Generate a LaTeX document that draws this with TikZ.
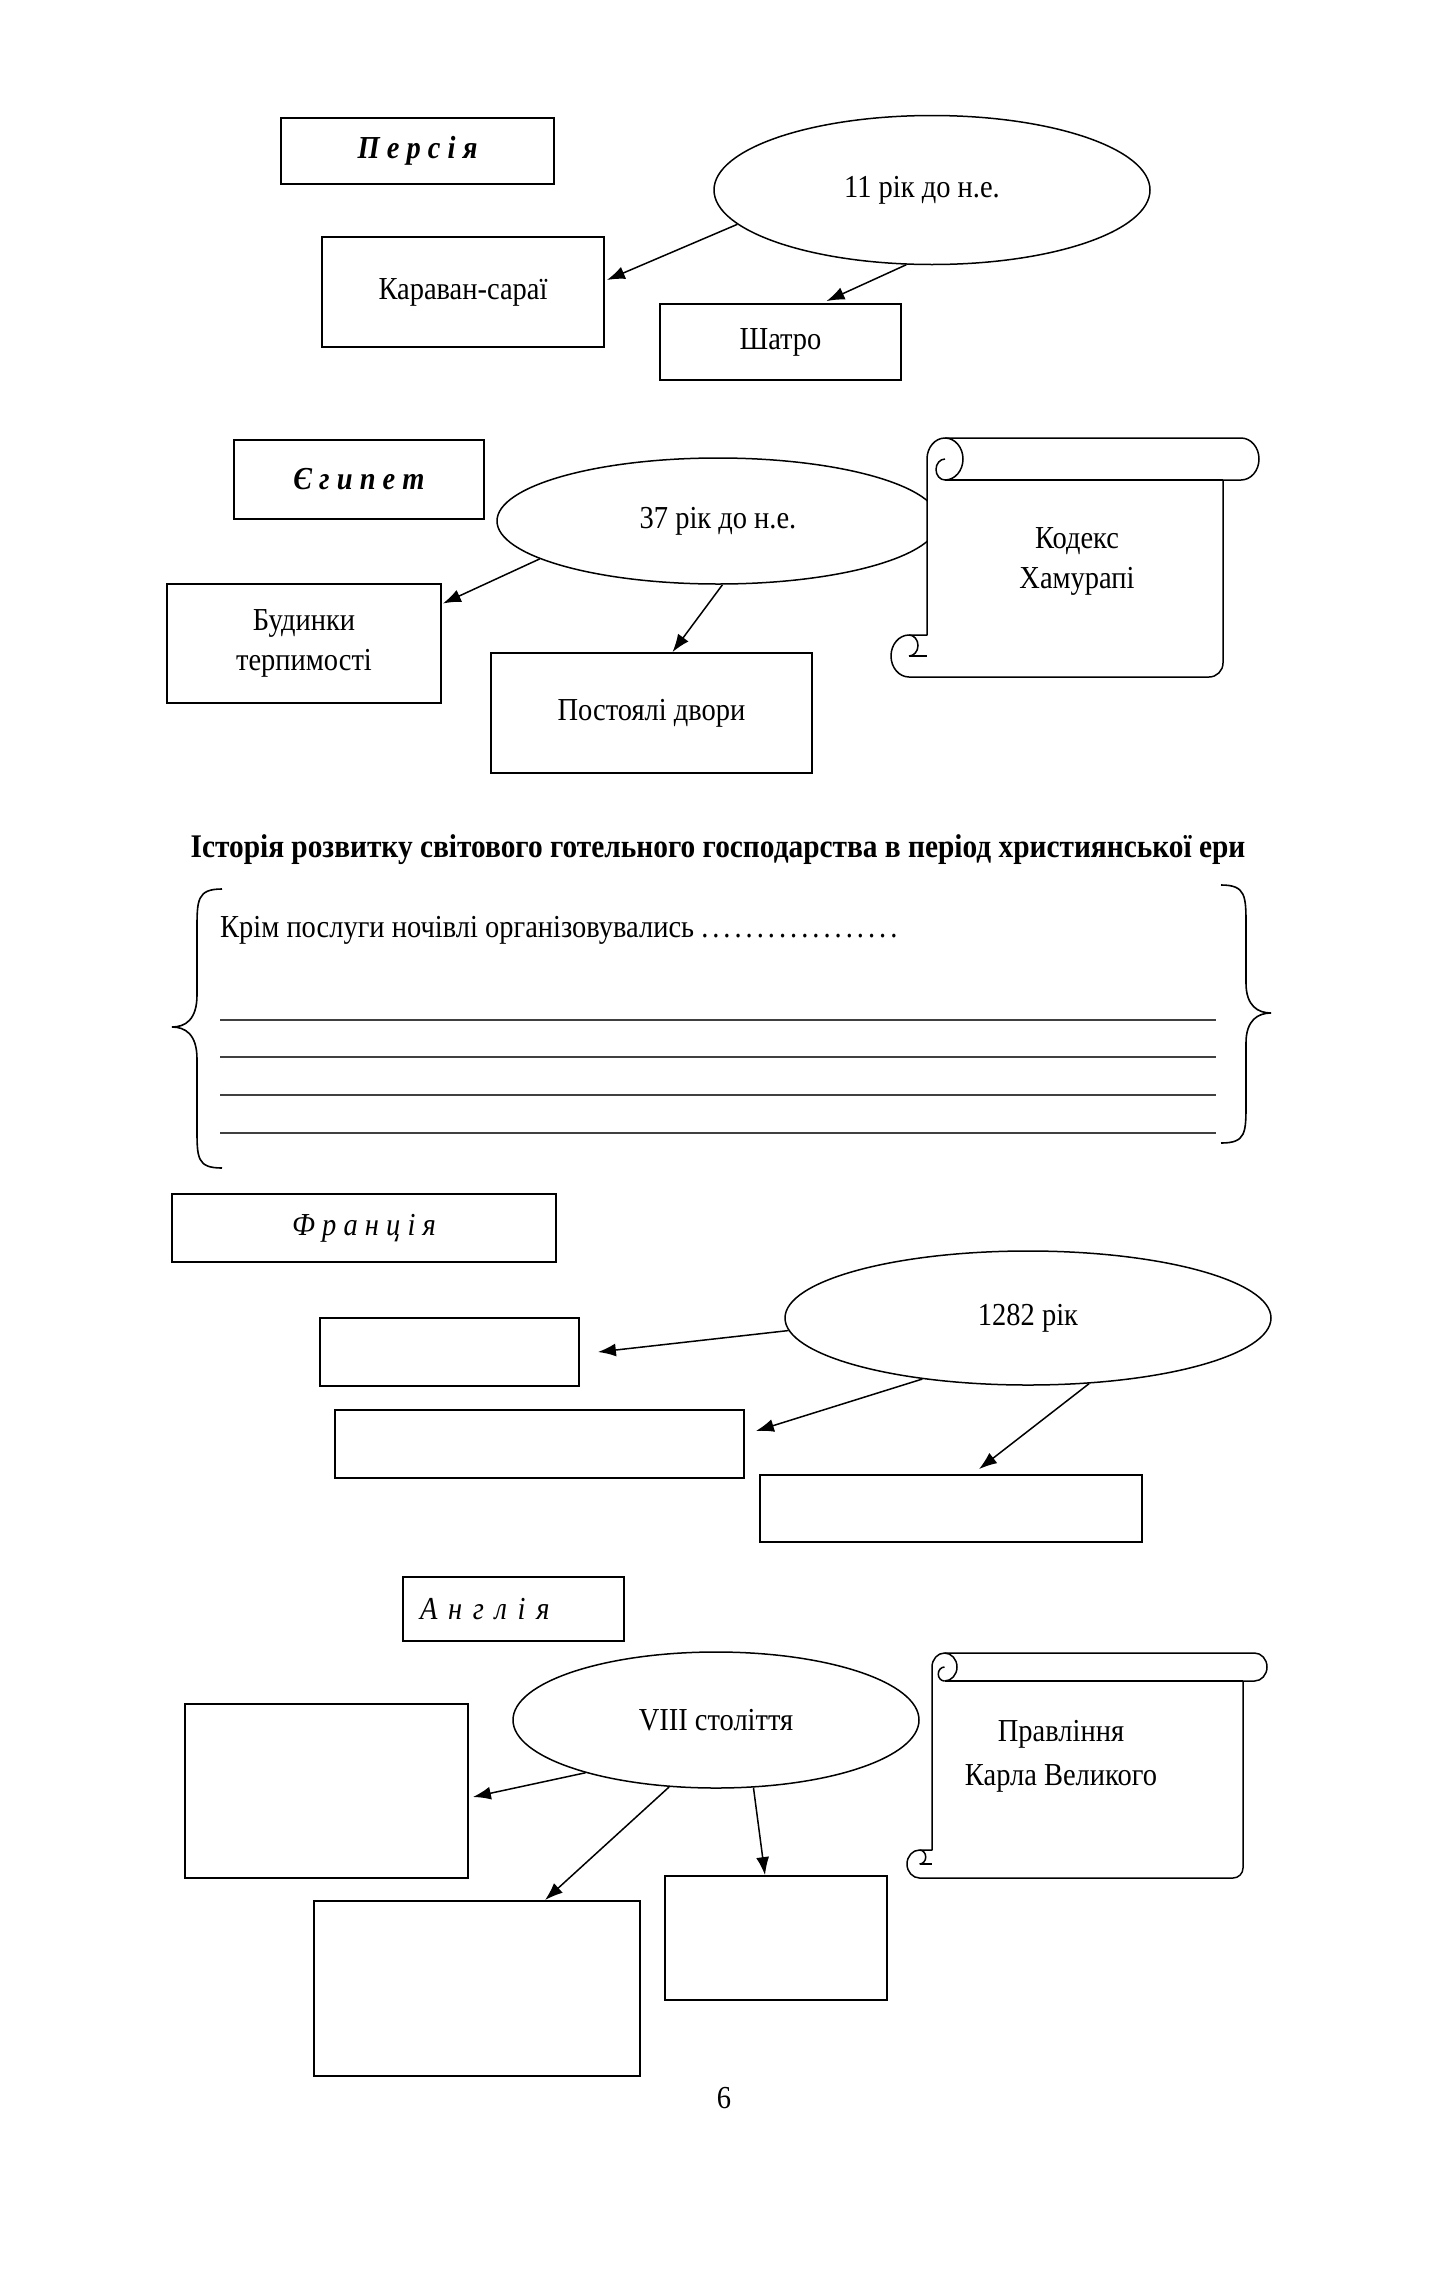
\documentclass[tikz,border=0pt]{standalone}
\usepackage{fontspec}
\setmainfont{Liberation Serif}[FakeStretch=0.89]
\usetikzlibrary{arrows.meta,shapes.geometric}
\tikzset{
  lbl/.style={font=\fontsize{32}{40}\selectfont},
  box/.style={draw, line width=1.8pt, rectangle, inner sep=0pt, align=center, lbl},
  oval/.style={draw, line width=1.5pt, ellipse, inner sep=0pt, align=center, lbl},
  arr/.style={line width=1.5pt, -{Latex[length=18pt,width=13pt]}},
  hdr/.style={box, font=\fontsize{32}{40}\selectfont\bfseries\itshape},
  hdrl/.style={box, font=\fontsize{32}{40}\selectfont\itshape},
  scrollshape/.style={draw, line width=1.5pt, fill=white, line join=round},
  scrolldetail/.style={line width=1.5pt},
  ruleline/.style={line width=1.6pt, black!75},
  bracestyle/.style={line width=1.6pt},
}
\newcommand{\dt}{.\kern4pt}
% #1 L, #2 A, #3 B, #4 R, #5 T, #6 Bt, #7 r, #8 rx, #9 corner
\newcommand{\drawscroll}[9]{%
  \draw[scrollshape] (#2,#5+#7) arc[start angle=180,end angle=270,x radius=#8,y radius=#7]
    -- (#4-#8,#5) arc[start angle=270,end angle=450,x radius=#8,y radius=#7]
    -- (#3,#5+2*#7) -- (#3,#6-#9) arc[start angle=0,end angle=90,x radius=#9,y radius=#9]
    -- (#1+#8,#6) arc[start angle=90,end angle=270,x radius=#8,y radius=#7]
    -- (#2,#6-2*#7) -- cycle;
  \draw[scrolldetail] (#2+#8,#5) arc[start angle=270,end angle=450,x radius=#8,y radius=#7];
  \draw[scrolldetail] (#2+#8,#5+#7) arc[start angle=270,end angle=90,x radius=#8/2,y radius=#7/2];
  \draw[scrolldetail] (#2+#8,#5+2*#7) -- (#3,#5+2*#7);
  \draw[scrolldetail] (#1+#8,#6-2*#7) arc[start angle=270,end angle=450,x radius=#8/2,y radius=#7/2];
  \draw[scrolldetail] (#1+#8,#6-#7) -- (#2,#6-#7);
}
\begin{document}
\begin{tikzpicture}[x=1pt,y=-1pt]
\fill[white] (0,0) rectangle (1439,2289);
\useasboundingbox (0,0) rectangle (1439,2289);

% ---- Persia
\node[hdr, minimum width=273pt, minimum height=66pt] (persia) at (417.5,151) {П е р с і я};
\node[oval, minimum width=436pt, minimum height=149pt] (e11) at (932,190) {11 рік до н.е.\hspace*{20pt}};
\node[box, minimum width=282pt, minimum height=110pt] (kar) at (463,292) {Караван-сараї};
\node[box, minimum width=241pt, minimum height=76pt] (shatro) at (780.5,342) {Шатро};
\draw[arr] (e11.190) -- ([xshift=2pt,yshift=12pt]kar.east);
\draw[arr] (e11.251) -- ([xshift=46pt,yshift=2pt]shatro.north);

% ---- Egypt
\node[hdr, minimum width=250pt, minimum height=79pt] (egypt) at (359,479.5) {Є г и п е т};
\node[oval, minimum width=442pt, minimum height=126pt] (e37) at (718,521) {37 рік до н.е.};
\node[box, minimum width=274pt, minimum height=119pt] (bud) at (304,643.5) {Будинки\\терпимості};
\node[box, minimum width=321pt, minimum height=120pt] (post) at (651.5,713) {Постоялі двори};
\draw[arr] (e37.192) -- ([xshift=1pt,yshift=40pt]bud.east);
\draw[arr] (e37.274) -- ([xshift=21pt]post.north);
\drawscroll{891}{927}{1223}{1259}{438}{677}{21}{18}{14}
\node[lbl, align=center] (kodeks) at (1077,561) {Кодекс\\Хамурапі};

% ---- Title and brace block
\node[font=\fontsize{33}{40}\selectfont\bfseries] (title) at (718,850) {Історія розвитку світового готельного господарства в період християнської ери};
\draw[bracestyle] (222,889) .. controls (197,889) and (197,900) .. (197,930) -- (197,995)
  .. controls (197,1020) and (185,1027) .. (172,1027)
  .. controls (185,1027) and (197,1034) .. (197,1059) -- (197,1128)
  .. controls (197,1158) and (197,1168) .. (222,1168);
\draw[bracestyle] (1221,885) .. controls (1246,885) and (1246,896) .. (1246,926) -- (1246,983)
  .. controls (1246,1006) and (1258,1013) .. (1271,1013)
  .. controls (1258,1013) and (1246,1020) .. (1246,1043) -- (1246,1103)
  .. controls (1246,1133) and (1246,1143) .. (1221,1143);
\node[lbl, anchor=base west, inner sep=0pt] (krim) at (220,937) {Крім послуги ночівлі організовувались \dt\dt\dt\dt\dt\dt\dt\dt\dt\dt\dt\dt\dt\dt\dt\dt\dt.};
\foreach \yy in {1020,1057,1095,1133} \draw[ruleline] (220,\yy) -- (1216,\yy);

% ---- France
\node[hdrl, minimum width=384pt, minimum height=68pt] (fr) at (364,1228) {Ф р а н ц і я};
\node[oval, minimum width=486pt, minimum height=134pt] (e82) at (1028,1318) {1282 рік};
\node[box, minimum width=259pt, minimum height=68pt] (f1) at (449.5,1352) {};
\node[box, minimum width=409pt, minimum height=68pt] (f2) at (539.5,1444) {};
\node[box, minimum width=382pt, minimum height=67pt] (f3) at (951,1508.5) {};
\draw[arr] (e82.183) -- ([xshift=18pt]f1.east);
\draw[arr] (e82.210) -- ([xshift=11pt,yshift=13pt]f2.east);
\draw[arr] (e82.-47) -- ([xshift=28pt,yshift=5pt]f3.north);

% ---- England
\node[hdrl, minimum height=64pt, text width=187pt, inner xsep=17pt, align=left] (eng) at (513.5,1609) {А н г л і я};
\node[oval, minimum width=406pt, minimum height=136pt] (e8) at (716,1720) {VIII століття};
\node[box, minimum width=283pt, minimum height=174pt] (e1b) at (326.5,1791) {};
\node[box, minimum width=326pt, minimum height=175pt] (e2b) at (477,1988.5) {};
\node[box, minimum width=222pt, minimum height=124pt] (e3b) at (776,1938) {};
\draw[arr] (e8.202) -- ([xshift=4pt,yshift=-6pt]e1b.east);
\draw[arr] (e8.235) -- ([xshift=68pt]e2b.north);
\draw[arr] (e8.-61) -- ([xshift=-11pt]e3b.north);
\drawscroll{907}{932}{1243}{1267}{1653}{1878}{14}{12.5}{10}
\node[font=\fontsize{32}{44}\selectfont, align=center] (karl) at (1061,1756) {Правління\\Карла Великого};

% ---- page number
\node[lbl] (pg) at (724,2098) {6};
\end{tikzpicture}
\end{document}
